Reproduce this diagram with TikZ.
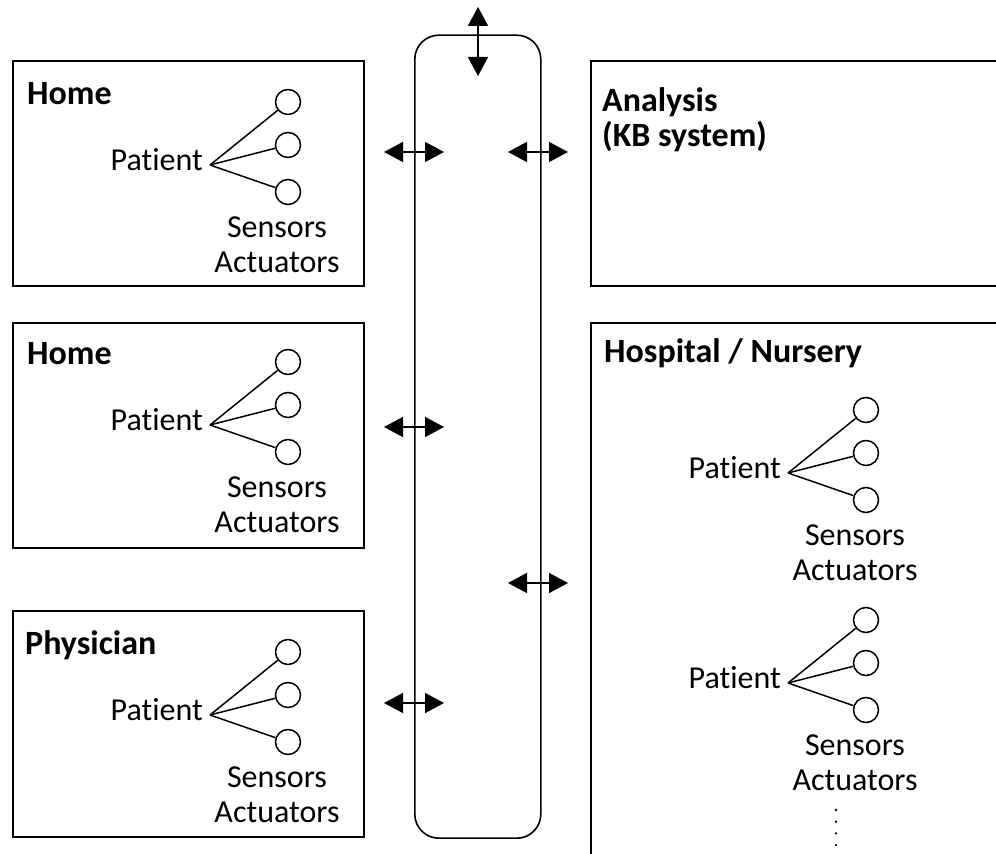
\documentclass[tikz,border=0pt]{standalone}
\usepackage{fontspec}
\setmainfont{Carlito}[Ligatures=NoCommon]
\usepackage{tikz}
\usetikzlibrary{arrows.meta}
\usetikzlibrary{calc}
\tikzstyle{site} = [rectangle, draw, line width=1.6pt, anchor=south west, inner sep=0pt]
\tikzstyle{bus} = [rectangle, draw, line width=1.6pt, rounded corners=24pt, anchor=south west,
    inner sep=0pt, minimum width=126pt, minimum height=803pt]
\tikzstyle{title} = [anchor=base west, inner sep=0pt, align=left, font=\fontsize{34}{35}\selectfont\bfseries]
\tikzstyle{patient} = [anchor=base east, inner sep=0pt, font=\fontsize{32}{35}\selectfont]
\tikzstyle{devices} = [inner sep=0pt, align=center, font=\fontsize{32}{35}\selectfont]
\tikzstyle{sensor} = [circle, draw, line width=1.5pt, minimum size=25pt, inner sep=0pt]
\tikzstyle{line} = [draw, line width=1.5pt]
\tikzstyle{link} = [draw, line width=1.5pt, {Triangle[length=19pt,width=20pt]}-{Triangle[length=19pt,width=20pt]}]
% patient with three sensors: name, x, y of the fork
\newcommand{\patientfan}[3]{%
    \coordinate (#1) at (#2,#3);
    \node [patient] (#1p) at ($(#1)+(-7,-6)$) {Patient};
    \node [sensor] (#1a) at ($(#1)+(78,63)$) {};
    \node [sensor] (#1b) at ($(#1)+(78,20)$) {};
    \node [sensor] (#1c) at ($(#1)+(78,-27)$) {};
    \node [devices] (#1d) at ($(#1)+(67,-80)$) {Sensors\\Actuators};
    \path [line] (#1) -- (#1a);
    \path [line] (#1) -- (#1b);
    \path [line] (#1) -- (#1c);
}

\begin{document}
\begin{tikzpicture}[x=1pt, y=1pt]
    \path [use as bounding box, clip] (0,0) rectangle (996,854);

    % Draw sites
    \node [site, minimum width=351pt, minimum height=225pt] (home1) at (12,567) {};
    \node [site, minimum width=351pt, minimum height=225pt] (home2) at (12,305) {};
    \node [site, minimum width=351pt, minimum height=226pt] (physician) at (12,16) {};
    \node [site, minimum width=420pt, minimum height=225pt] (analysis) at (590,567) {};
    \node [site, minimum width=420pt, minimum height=560pt] (hospital) at (590,-30) {};
    \node [bus] (bus) at (414,15) {};

    \node [title] (home1t) at (27,749) {Home};
    \node [title] (home2t) at (27,489) {Home};
    \node [title] (physiciant) at (25,199) {Physician};
    \node [title] (analysist) at (602,707) {Analysis\\(KB system)};
    \node [title] (hospitalt) at (604,491) {Hospital / Nursery};

    \patientfan{fa}{210}{689}
    \patientfan{fb}{210}{429}
    \patientfan{fc}{210}{139}
    \patientfan{fd}{788}{381}
    \patientfan{fe}{788}{171}

    \coordinate (more) at (836,44);
    \draw [line width=2.6pt, line cap=round, dash pattern=on 0pt off 11.7pt] (more) -- ++(0,-36);

    % Draw links to the bus
    \coordinate (topa) at (478,847);
    \coordinate (topb) at (478,778);
    \coordinate (wa1) at (384,702);
    \coordinate (wa2) at (444,702);
    \coordinate (wb1) at (384,427);
    \coordinate (wb2) at (444,427);
    \coordinate (wc1) at (384,151);
    \coordinate (wc2) at (444,151);
    \coordinate (ea1) at (508,702);
    \coordinate (ea2) at (568,702);
    \coordinate (eb1) at (508,271);
    \coordinate (eb2) at (568,271);
    \path [link] (topa) -- (topb);
    \path [link] (wa1) -- (wa2);
    \path [link] (wb1) -- (wb2);
    \path [link] (wc1) -- (wc2);
    \path [link] (ea1) -- (ea2);
    \path [link] (eb1) -- (eb2);
\end{tikzpicture}
\end{document}
